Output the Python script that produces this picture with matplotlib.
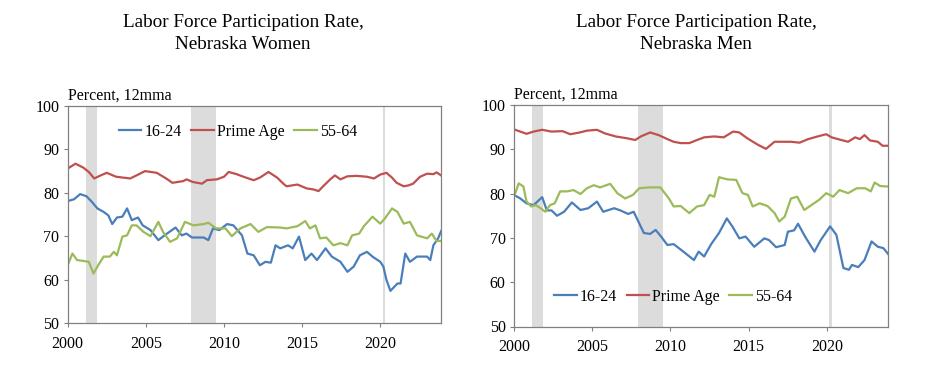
import matplotlib
matplotlib.use("Agg")
import matplotlib.pyplot as plt

# ---- data (12-month moving averages) ----
# Nebraska women
w_young_x = [2000.0, 2000.4, 2000.8, 2001.2, 2001.55, 2001.9, 2002.3, 2002.6, 2002.85, 2003.15,
             2003.5, 2003.8, 2004.1, 2004.5, 2004.8, 2005.3, 2005.8, 2006.2, 2006.9, 2007.3,
             2007.6, 2007.95, 2008.7, 2009.0, 2009.3, 2009.7, 2010.2, 2010.6, 2011.15, 2011.5,
             2011.9, 2012.3, 2012.65, 2013.0, 2013.3, 2013.6, 2014.1, 2014.4, 2014.8, 2015.2,
             2015.6, 2015.95, 2016.5, 2016.9, 2017.45, 2017.9, 2018.3, 2018.7, 2019.15, 2019.5,
             2020.0, 2020.2, 2020.4, 2020.65, 2021.1, 2021.3, 2021.6, 2021.9, 2022.35, 2023.0,
             2023.2, 2023.4, 2023.7, 2023.9]
w_young_y = [78.1, 78.5, 79.7, 79.2, 77.9, 76.4, 75.6, 74.8, 72.8, 74.3,
             74.5, 76.4, 73.7, 74.3, 72.5, 71.4, 69.1, 70.2, 72.0, 70.2,
             70.6, 69.7, 69.7, 69.1, 71.8, 71.4, 72.8, 72.5, 70.2, 66.0,
             65.6, 63.3, 64.1, 63.9, 67.9, 67.2, 67.9, 67.2, 69.9, 64.5,
             66.0, 64.5, 67.2, 65.3, 64.1, 61.8, 63.0, 65.6, 66.4, 65.3,
             64.1, 63.0, 59.9, 57.4, 59.1, 59.1, 66.0, 64.1, 65.3, 65.3,
             64.5, 67.9, 69.5, 71.2]

w_prime_x = [2000.0, 2000.5, 2001.0, 2001.35, 2001.7, 2002.1, 2002.5, 2003.1, 2004.0, 2004.4,
             2004.95, 2005.7, 2006.3, 2006.7, 2007.4, 2007.6, 2008.0, 2008.6, 2008.9, 2009.55,
             2010.0, 2010.3, 2010.8, 2011.25, 2011.9, 2012.3, 2012.85, 2013.4, 2013.8, 2014.0,
             2014.7, 2015.3, 2015.7, 2016.05, 2016.4, 2016.8, 2017.1, 2017.45, 2017.9, 2018.5,
             2019.15, 2019.6, 2020.0, 2020.4, 2020.75, 2021.05, 2021.5, 2021.8, 2022.1, 2022.55,
             2023.0, 2023.4, 2023.6, 2023.9]
w_prime_y = [85.6, 86.7, 85.8, 84.8, 83.3, 84.0, 84.6, 83.7, 83.3, 84.0,
             85.0, 84.6, 83.3, 82.3, 82.7, 83.1, 82.5, 82.1, 82.9, 83.1,
             83.7, 84.8, 84.3, 83.7, 82.9, 83.5, 84.8, 83.5, 82.1, 81.5,
             81.9, 81.0, 80.8, 80.4, 81.7, 83.1, 84.0, 83.1, 83.8, 83.9,
             83.7, 83.3, 84.2, 84.6, 83.5, 82.3, 81.5, 81.7, 82.1, 83.7,
             84.4, 84.3, 84.7, 84.0]

w_older_x = [2000.0, 2000.3, 2000.6, 2001.0, 2001.35, 2001.65, 2001.95, 2002.3, 2002.7, 2002.95,
             2003.15, 2003.5, 2003.8, 2004.1, 2004.4, 2004.85, 2005.3, 2005.8, 2006.1, 2006.55,
             2007.0, 2007.5, 2008.05, 2008.7, 2009.0, 2009.5, 2010.1, 2010.5, 2011.05, 2011.7,
             2012.2, 2012.75, 2013.6, 2014.0, 2014.7, 2015.2, 2015.5, 2015.85, 2016.15, 2016.55,
             2017.0, 2017.45, 2017.9, 2018.2, 2018.65, 2018.95, 2019.5, 2020.0, 2020.3, 2020.75,
             2021.1, 2021.5, 2021.9, 2022.35, 2023.0, 2023.3, 2023.6, 2023.9]
w_older_y = [63.3, 66.0, 64.5, 64.3, 64.1, 61.4, 63.3, 65.3, 65.3, 66.4,
             65.6, 69.9, 70.2, 72.5, 72.5, 71.0, 70.0, 73.3, 71.0, 68.7,
             69.5, 73.3, 72.5, 72.8, 73.1, 71.8, 71.8, 70.0, 71.8, 72.8,
             71.0, 72.1, 72.0, 71.8, 72.3, 73.5, 71.8, 72.5, 69.5, 69.7,
             67.9, 68.4, 67.9, 70.2, 70.6, 72.3, 74.5, 72.9, 74.1, 76.4,
             75.6, 72.9, 73.3, 70.2, 69.5, 70.6, 68.9, 68.9]

# Nebraska men
m_young_x = [2000.0, 2000.4, 2000.8, 2001.25, 2001.8, 2002.1, 2002.4, 2002.75, 2003.2, 2003.7,
             2004.25, 2004.75, 2005.3, 2005.7, 2006.4, 2006.8, 2007.3, 2007.65, 2008.3, 2008.7,
             2009.05, 2009.4, 2009.8, 2010.2, 2010.75, 2011.5, 2011.8, 2012.15, 2012.6, 2013.1,
             2013.6, 2013.95, 2014.4, 2014.8, 2015.35, 2016.0, 2016.3, 2016.75, 2017.3, 2017.5,
             2017.9, 2018.15, 2018.6, 2019.2, 2019.6, 2020.2, 2020.6, 2021.05, 2021.4, 2021.6,
             2022.0, 2022.4, 2022.85, 2023.25, 2023.6, 2023.9]
m_young_y = [79.7, 78.9, 77.8, 77.4, 79.2, 76.2, 76.2, 75.0, 75.9, 78.0,
             76.3, 76.7, 78.2, 75.9, 76.7, 76.2, 75.4, 75.9, 71.1, 70.9,
             71.8, 70.3, 68.4, 68.6, 67.1, 65.0, 66.9, 65.8, 68.6, 71.1,
             74.4, 72.6, 69.9, 70.3, 68.0, 69.9, 69.5, 67.9, 68.4, 71.4,
             71.7, 73.2, 70.3, 66.9, 69.5, 72.6, 70.7, 63.2, 62.8, 63.9,
             63.4, 65.0, 69.2, 68.0, 67.7, 66.4]

m_prime_x = [2000.0, 2000.4, 2000.8, 2001.25, 2001.8, 2002.4, 2003.1, 2003.6, 2004.2, 2004.65,
             2005.3, 2005.8, 2006.5, 2007.2, 2007.75, 2008.1, 2008.7, 2009.25, 2009.8, 2010.2,
             2010.65, 2011.2, 2011.7, 2012.15, 2012.8, 2013.4, 2014.0, 2014.4, 2014.9, 2015.6,
             2016.1, 2016.65, 2017.2, 2017.7, 2018.25, 2018.8, 2019.4, 2019.95, 2020.3, 2020.7,
             2021.35, 2021.8, 2022.1, 2022.4, 2022.75, 2023.25, 2023.55, 2023.9]
m_prime_y = [94.5, 94.0, 93.5, 94.0, 94.4, 94.0, 94.1, 93.4, 93.8, 94.2,
             94.4, 93.6, 92.9, 92.5, 92.1, 92.9, 93.8, 93.2, 92.3, 91.7,
             91.4, 91.4, 92.1, 92.7, 92.9, 92.7, 94.0, 93.8, 92.5, 91.0,
             90.1, 91.7, 91.7, 91.7, 91.5, 92.3, 92.9, 93.4, 92.7, 92.3,
             91.7, 92.7, 92.3, 93.2, 92.0, 91.7, 90.8, 90.8]

m_older_x = [2000.0, 2000.3, 2000.6, 2000.8, 2001.1, 2001.4, 2001.7, 2002.0, 2002.3, 2002.6,
             2002.95, 2003.4, 2003.8, 2004.25, 2004.65, 2005.1, 2005.5, 2006.15, 2006.6, 2007.1,
             2007.6, 2008.0, 2008.6, 2009.35, 2009.9, 2010.2, 2010.65, 2011.2, 2011.7, 2012.15,
             2012.5, 2012.8, 2013.1, 2013.65, 2014.2, 2014.6, 2014.95, 2015.25, 2015.7, 2016.2,
             2016.65, 2016.95, 2017.3, 2017.7, 2018.1, 2018.55, 2019.0, 2019.5, 2019.95, 2020.4,
             2020.8, 2021.35, 2021.9, 2022.45, 2022.8, 2023.05, 2023.4, 2023.9]
m_older_y = [79.3, 82.3, 81.6, 78.2, 77.1, 77.4, 76.7, 75.9, 77.4, 77.8,
             80.5, 80.5, 80.8, 79.9, 81.2, 81.9, 81.4, 82.2, 80.1, 78.9,
             79.7, 81.2, 81.4, 81.4, 78.9, 77.1, 77.2, 75.6, 77.1, 77.4,
             79.7, 79.3, 83.7, 83.2, 83.1, 80.1, 79.7, 77.1, 77.8, 77.2,
             75.6, 73.7, 74.8, 78.9, 79.3, 76.3, 77.4, 78.6, 80.1, 79.3,
             80.8, 80.1, 81.2, 81.2, 80.5, 82.5, 81.7, 81.6]

recessions = [(2001.17, 2001.87), (2007.92, 2009.5), (2020.15, 2020.33)]
year_ticks = [2000, 2005, 2010, 2015, 2020]
pct_ticks = [50, 60, 70, 80, 90, 100]
series_labels = ["16-24", "Prime Age", "55-64"]
colors = ["#4a7ebb", "#c0504d", "#9bbb59"]

plt.rcParams["font.family"] = ["Liberation Serif", "DejaVu Serif"]

fig = plt.figure(figsize=(9.25, 3.66), dpi=100)
ax_w = fig.add_axes([67.7 / 925, 1 - 323 / 366, 373.5 / 925, 217 / 366])
ax_m = fig.add_axes([514 / 925, 1 - 326.5 / 366, 374 / 925, 221.5 / 366])

panels = [
    (ax_w, "Labor Force Participation Rate,\nNebraska Women", 243,
     [(w_young_x, w_young_y), (w_prime_x, w_prime_y), (w_older_x, w_older_y)],
     (0.456, 0.88)),
    (ax_m, "Labor Force Participation Rate,\nNebraska Men", 696,
     [(m_young_x, m_young_y), (m_prime_x, m_prime_y), (m_older_x, m_older_y)],
     (0.426, 0.135)),
]

for ax, title, tx, data, leg_pos in panels:
    for a, b in recessions:
        ax.axvspan(a, b, color="#dcdcdc", lw=0, zorder=0)
    for (xs, ys), lab, c in zip(data, series_labels, colors):
        ax.plot(xs, ys, color=c, lw=1.6, label=lab, zorder=2)
    ax.set_xlim(2000, 2023.9)
    ax.set_ylim(50, 100)
    ax.set_xticks(year_ticks)
    ax.set_yticks(pct_ticks)
    ax.tick_params(labelsize=11.5, length=3, width=0.8, color="#808080")
    ax.tick_params(axis="x", pad=6)
    ax.tick_params(axis="y", pad=3)
    for s in ax.spines.values():
        s.set_color("#808080")
        s.set_linewidth(0.9)
    ax.text(0.0, 1.012, "Percent, 12mma", transform=ax.transAxes, fontsize=11.5,
            ha="left", va="bottom")
    ax.legend(loc="center", bbox_to_anchor=leg_pos, ncol=3, frameon=False,
              fontsize=11.5, handlelength=1.4, handletextpad=0.2, columnspacing=0.6,
              borderaxespad=0)
    fig.text(tx / 925, 1 - 14 / 366, title, ha="center", va="top", fontsize=13.8,
             linespacing=1.35)

fig.savefig("out.png", dpi=100)
